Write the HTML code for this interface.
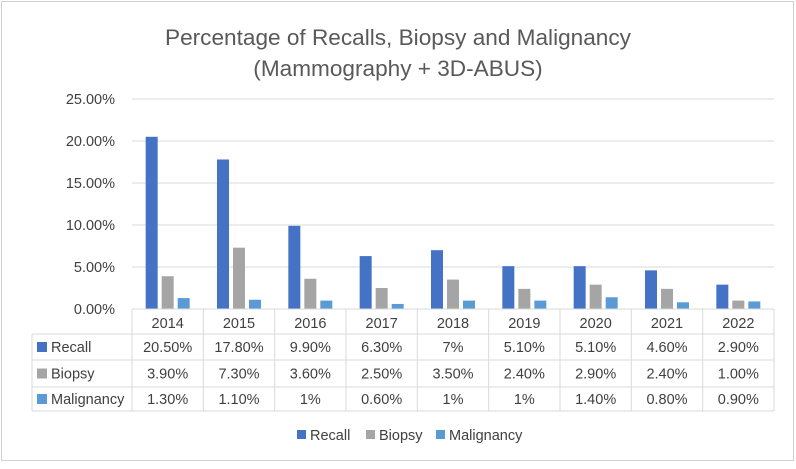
<!DOCTYPE html>
<html><head><meta charset="utf-8"><style>
body{margin:0;background:#fff;font-family:"Liberation Sans",sans-serif;}
svg text{font-family:"Liberation Sans",sans-serif;fill:#404040;}
</style></head><body>
<svg id="c" width="796" height="464">
<rect x="1.5" y="1.5" width="792" height="459" fill="#fff" stroke="#d0d0d0"/>
<text x="398" y="45" text-anchor="middle" font-size="22.6" style="fill:#595959">Percentage of Recalls, Biopsy and Malignancy</text>
<text x="398" y="76" text-anchor="middle" font-size="22.6" style="fill:#595959">(Mammography + 3D-ABUS)</text>
</svg>
<script>
const categories=["2014","2015","2016","2017","2018","2019","2020","2021","2022"];
const recall=[20.5,17.8,9.9,6.3,7,5.1,5.1,4.6,2.9];
const biopsy=[3.9,7.3,3.6,2.5,3.5,2.4,2.9,2.4,1.0];
const malignancy=[1.3,1.1,1,0.6,1,1,1.4,0.8,0.9];
const recallLabels=["20.50%","17.80%","9.90%","6.30%","7%","5.10%","5.10%","4.60%","2.90%"];
const biopsyLabels=["3.90%","7.30%","3.60%","2.50%","3.50%","2.40%","2.90%","2.40%","1.00%"];
const malignancyLabels=["1.30%","1.10%","1%","0.60%","1%","1%","1.40%","0.80%","0.90%"];
const yTicks=[0,5,10,15,20,25];
const yTickLabels=["0.00%","5.00%","10.00%","15.00%","20.00%","25.00%"];

const svg=document.getElementById('c');const NS="http://www.w3.org/2000/svg";
const L=132,R=774,Y0=309,Y1=99,YMAX=25;
const bw=(R-L)/categories.length;
const y=v=>Y0-(v/YMAX)*(Y0-Y1);
const xc=i=>L+bw*(i+0.5);
function mk(t,a){const e=document.createElementNS(NS,t);for(const k in a)e.setAttribute(k,a[k]);svg.appendChild(e);return e;}
yTicks.forEach((t,i)=>{
 if(t>0){const g=mk('line',{x1:L,x2:R,y1:y(t),y2:y(t),stroke:'#d9d9d9','stroke-width':1});
 
 }
 const tx=mk('text',{x:L-17,y:y(t)+5,'text-anchor':'end','font-size':14.5});tx.textContent=yTickLabels[i];
 
 
});
const series=[{n:'recall',d:recall,c:'#4472c4',l:recallLabels,t:'Recall'},{n:'biopsy',d:biopsy,c:'#a5a5a5',l:biopsyLabels,t:'Biopsy'},{n:'malignancy',d:malignancy,c:'#5b9bd5',l:malignancyLabels,t:'Malignancy'}];
const w=12,gap=4;
series.forEach((s,si)=>{s.d.forEach((v,i)=>{
 const x=xc(i)-22+si*(w+gap);
 const r=mk('rect',{x:x,y:y(v),width:w,height:Y0-y(v),fill:s.c});
 
 
});});
const rows=[309,334,360,387,411];const TL=32;
const st={stroke:'#d9d9d9','stroke-width':1,fill:'none'};
rows.forEach((ry,i)=>{const x1=i==0?L:TL;const ln=mk('line',Object.assign({x1:x1,x2:R,y1:ry,y2:ry},st));
 
 });
for(let i=0;i<=categories.length;i++){const x=L+bw*i;const ln=mk('line',Object.assign({x1:x,x2:x,y1:Y0,y2:411},st));
 
 }
const lv=mk('line',Object.assign({x1:TL,x2:TL,y1:334,y2:411},st));


categories.forEach((c,i)=>{const t=mk('text',{x:xc(i),y:328,'text-anchor':'middle','font-size':14.5});t.textContent=c;
 
 });
series.forEach((s,si)=>{const cy=(rows[si+1]+rows[si+2])/2;
 const k=mk('rect',{x:37,y:cy-5,width:10,height:10,fill:s.c});
 
 
 const t=mk('text',{x:51,y:cy+5,'font-size':14.5});t.textContent=s.t;
 
 
 s.l.forEach((v,i)=>{const tv=mk('text',{x:xc(i),y:cy+5,'text-anchor':'middle','font-size':14.5});tv.textContent=v;
  
  });
});
const lx=[297,366,436];
series.forEach((s,si)=>{const k=mk('rect',{x:lx[si],y:430,width:9,height:9,fill:s.c});
 
 
 const t=mk('text',{x:lx[si]+13,y:440,'font-size':14.5});t.textContent=s.t;
 
 });
</script>
</body></html>
